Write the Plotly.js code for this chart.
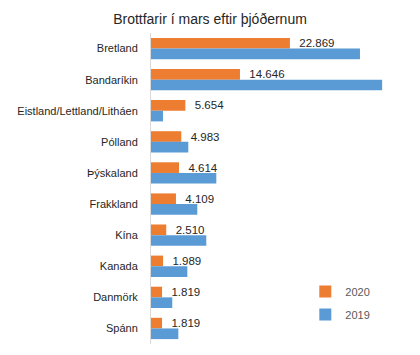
<!DOCTYPE html>
<html><head><meta charset="utf-8">
<script src="https://cdn.plot.ly/plotly-3.0.1.min.js"></script>
<style>body{margin:0;background:#fff}#c{width:420px;height:355px}</style>
</head><body><div id="c"></div>
<script>
const categories = ["Bretland","Bandaríkin","Eistland/Lettland/Litháen","Pólland","Þýskaland","Frakkland","Kína","Kanada","Danmörk","Spánn"];
const values2020 = [22869,14646,5654,4983,4614,4109,2510,1989,1819,1819];
const values2019 = [34400,38050,1970,6140,10750,7620,9100,5980,3500,4500];
const labels2020 = ["22.869","14.646","5.654","4.983","4.614","4.109","2.510","1.989","1.819","1.819"];

const font = "Liberation Sans, Arial, sans-serif";
const data = [
  {type:"bar", orientation:"h", name:"2020", y:categories, x:values2020,
   marker:{color:"#ED7D31"}, text:labels2020.map(s=>"  "+s), textposition:"outside", constraintext:"none",
   textfont:{size:11.5,color:"#262626",family:font}, cliponaxis:false, legendgroup:"a", hoverinfo:"x+y"},
  {type:"bar", orientation:"h", name:"2019", y:categories, x:values2019,
   marker:{color:"#5B9BD5"}, legendgroup:"b", hoverinfo:"x+y"}
];
const layout = {
  width:420, height:355,
  margin:{l:151, r:26, t:33, b:11, autoexpand:false},
  paper_bgcolor:"#fff", plot_bgcolor:"#fff",
  title:{text:"Brottfarir í mars eftir þjóðernum", font:{size:14, color:"#262626", family:font}, x:0.5, xanchor:"center", y:1-19/355, yanchor:"middle"},
  barmode:"group", bargap:0.315, bargroupgap:0,
  xaxis:{range:[0,40000], visible:false, fixedrange:true},
  yaxis:{autorange:"reversed", showline:true, linecolor:"#d9d9d9", linewidth:1, showgrid:false,
         ticks:"", ticklabelstandoff:10, tickfont:{size:11,color:"#262626",family:font}, fixedrange:true},
  showlegend:true,
  legend:{x:0.635, xanchor:"left", y:(355-277)/355, yanchor:"top", yref:"container",
          font:{size:11,color:"#595959",family:font}, traceorder:"grouped", tracegroupgap:4, itemwidth:30},
  font:{family:font}
};
Plotly.newPlot("c", data, layout, {displayModeBar:false, staticPlot:true});
</script></body></html>
